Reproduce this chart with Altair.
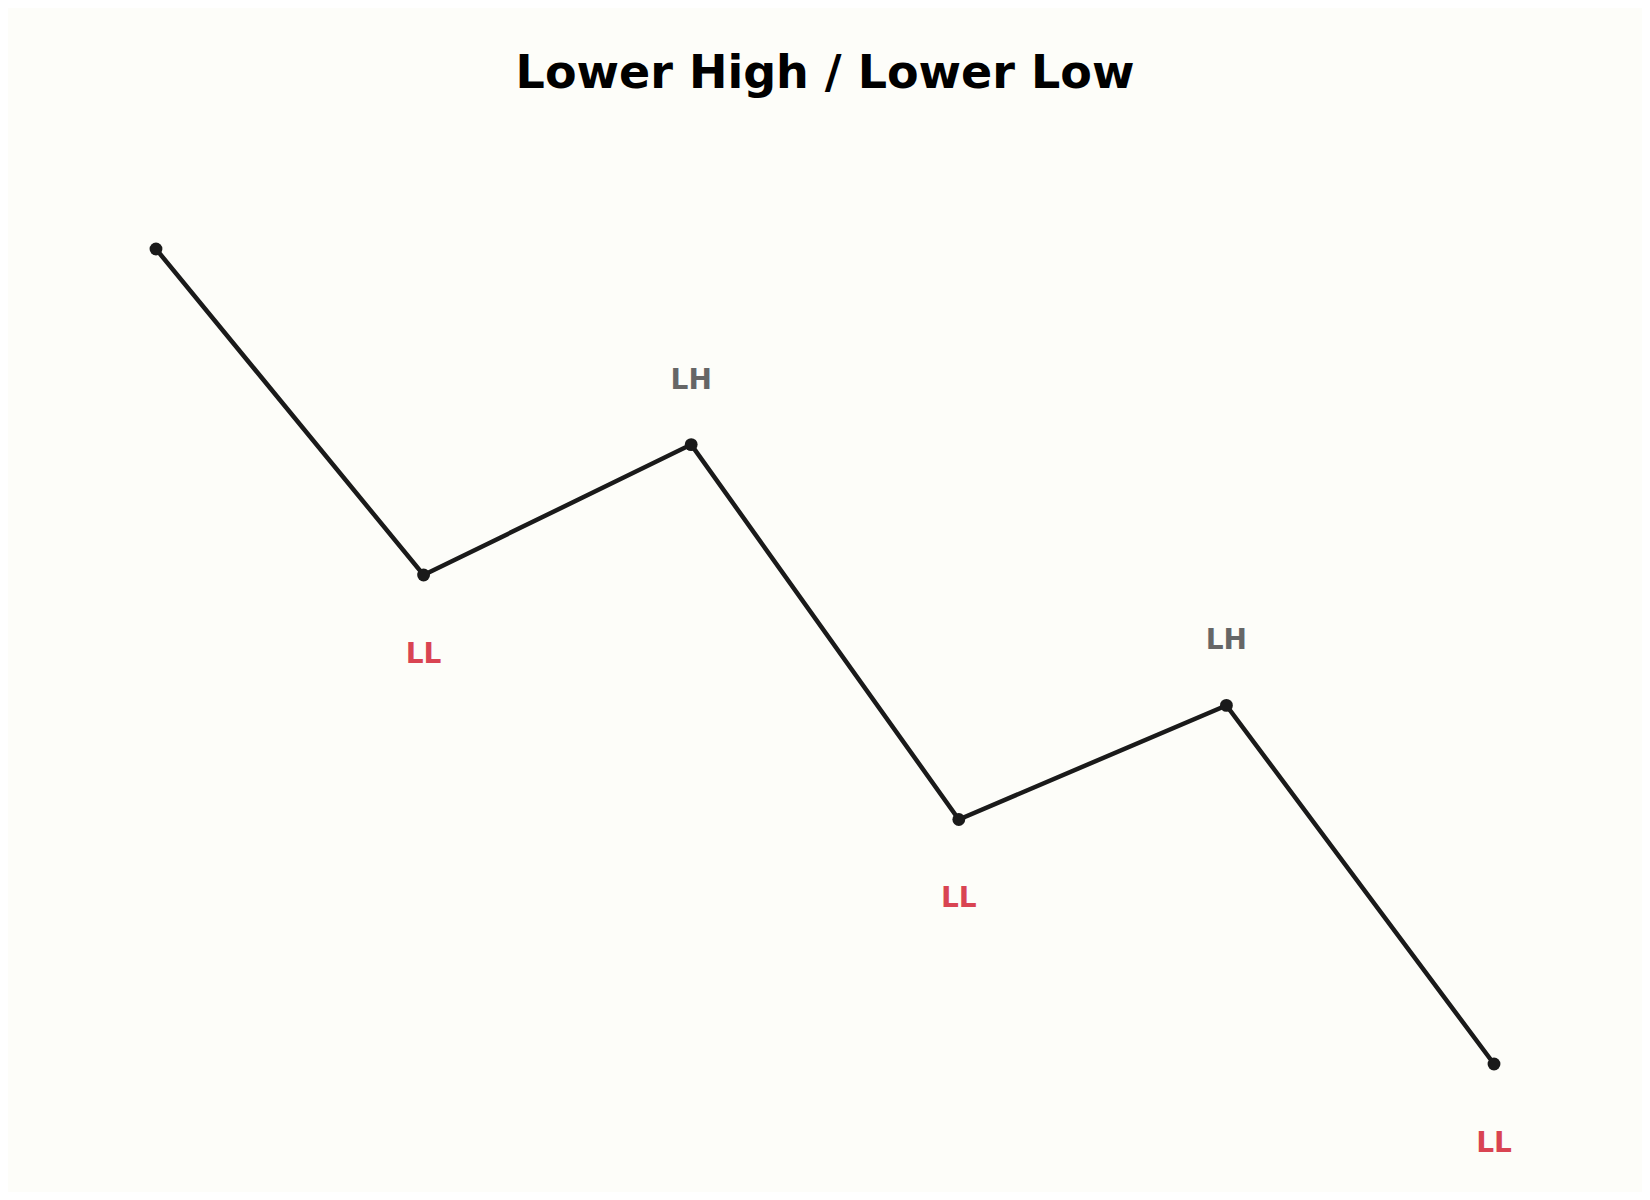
import altair as alt
import pandas as pd

# data
swing_index = [0, 1, 2, 3, 4, 5]
swing_price = [100, 88, 92.8, 79, 83.2, 70]
swing_label = ["", "LL", "LH", "LL", "LH", "LL"]

df = pd.DataFrame({"i": swing_index, "price": swing_price, "label": swing_label})

BG = "#fdfdf9"
W = 1634
PAD_TOP = 120
H = 1200 - 16 - PAD_TOP

xs = alt.Scale(domain=[-0.553, 5.553], nice=False, zero=False)
ys = alt.Scale(domain=[65.288, 104.454], nice=False, zero=False)

base = alt.Chart(df).encode(
    x=alt.X("i:Q", scale=xs, axis=None),
    y=alt.Y("price:Q", scale=ys, axis=None),
)

line = base.mark_line(color="#1a1a1a", strokeWidth=4.5)
pts = base.mark_circle(color="#1a1a1a", size=165, opacity=1)

lh = base.transform_filter(alt.datum.label == "LH").mark_text(
    font="DejaVu Sans", fontWeight="bold", fontSize=28, color="#666666",
    baseline="alphabetic", align="center", dy=-56,
).encode(text="label:N")

ll = base.transform_filter(alt.datum.label == "LL").mark_text(
    font="DejaVu Sans", fontWeight="bold", fontSize=28, color="#d94452",
    baseline="alphabetic", align="center", dy=88,
).encode(text="label:N")

chart = (
    alt.layer(line, pts, lh, ll)
    .properties(
        width=W,
        height=H,
        title=alt.TitleParams(
            "Lower High / Lower Low",
            font="DejaVu Sans", fontSize=46, fontWeight="bold", color="#000000",
            anchor="middle", baseline="alphabetic", offset=33, dy=39,
        ),
        autosize=alt.AutoSizeParams(type="none"),
        padding={"left": 0, "right": 0, "top": PAD_TOP, "bottom": 0},
        background=BG,
    )
    .configure_view(strokeWidth=0)
)

chart.save("out.html", embed_options={"renderer": "svg", "actions": False})
